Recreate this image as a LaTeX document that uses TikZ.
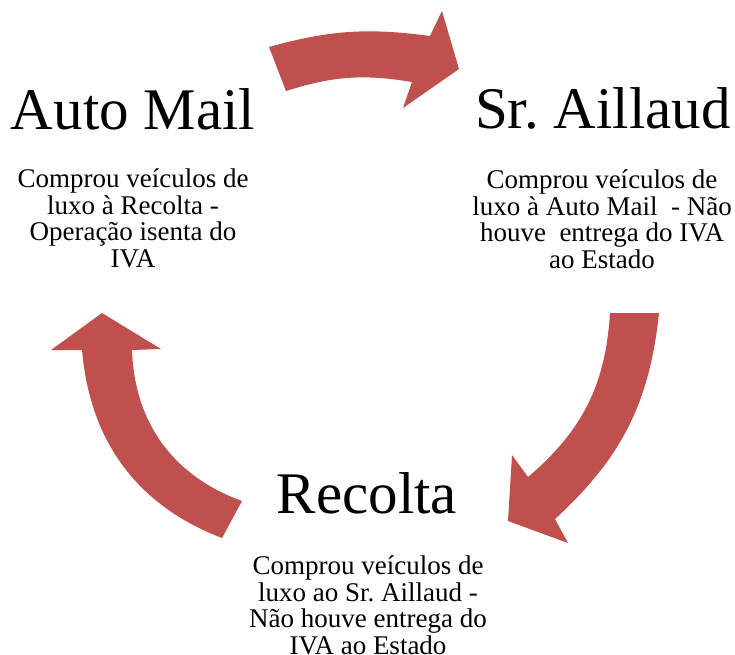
\documentclass[tikz,border=0pt]{standalone}
\usepackage{fontspec}
\setmainfont{Liberation Serif}
\frenchspacing
\definecolor{arrowred}{HTML}{C0504D}
\tikzset{
  cyclearrow/.style={fill=arrowred, draw=none},
  titletext/.style={anchor=base, inner sep=0pt, font=\fontsize{59}{60}\selectfont},
  bodytext/.style={anchor=base, inner sep=0pt, align=center, font=\fontsize{27}{26.5}\selectfont}
}
\begin{document}
\begin{tikzpicture}[x=1pt,y=-1pt]
\useasboundingbox (0,0) rectangle (735,654);
% arrows
\fill[cyclearrow] (269,47) to[out=15.5,in=172.3] (430,36)
  -- (442,11) -- (459,69) -- (403,108) -- (412,82)
  to[out=170.6,in=17.6] (286,91) -- cycle;
\fill[cyclearrow] (659,313) to[out=-96,in=42.5] (555,519)
  -- (568,543) -- (508,521) -- (512,455) -- (528,477)
  to[out=40.4,in=-93.6] (610,313) -- cycle;
\fill[cyclearrow] (102,313) -- (161,349) -- (132,350)
  to[out=-88,in=160] (242,501)
  -- (222,538)
  to[out=159,in=-85] (82,350)
  -- (51,350) -- cycle;
% titles
\node[titletext] (automail) at (133,129) {Auto Mail};
\node[titletext] (aillaud) at (603,128) {Sr. Aillaud};
\node[titletext] (recolta) at (367,513) {Recolta};
% bodies (anchor base = last line)
\node[bodytext] (automailtxt) at (133,267) {Comprou veículos de\\luxo à Recolta -\\Operação isenta do\\IVA};
\node[bodytext] (aillaudtxt) at (602,268) {Comprou veículos de\\luxo à Auto Mail~~- Não\\houve~~entrega do IVA\\ao Estado};
\node[bodytext] (recoltatxt) at (368,654) {Comprou veículos de\\luxo ao Sr. Aillaud -\\Não houve entrega do\\IVA ao Estado};
\end{tikzpicture}
\end{document}
